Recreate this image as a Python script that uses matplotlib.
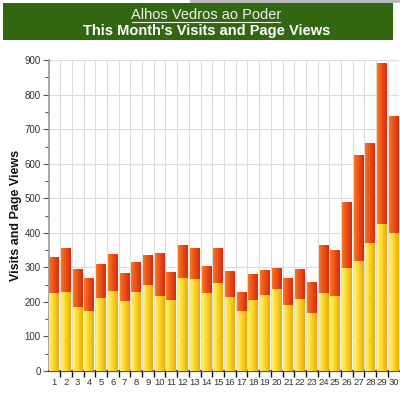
import numpy as np
import matplotlib
matplotlib.use("Agg")
import matplotlib.pyplot as plt
from matplotlib.patches import Rectangle
from matplotlib.colors import LinearSegmentedColormap

days = list(range(1, 31))
visits = [226, 229, 186, 175, 211, 231, 202, 229, 249, 216, 205, 269, 266, 227, 256,
          213, 175, 205, 221, 237, 192, 208, 168, 226, 216, 297, 319, 372, 425, 401]
totals = [331, 355, 294, 270, 310, 339, 285, 315, 337, 342, 288, 365, 356, 305, 355,
          289, 229, 282, 291, 297, 270, 294, 257, 366, 350, 490, 625, 659, 893, 737]
pageviews = [t - v for t, v in zip(totals, visits)]
yticks = list(range(0, 901, 100))

plt.rcParams['font.family'] = ['Liberation Sans', 'DejaVu Sans']

fig = plt.figure(figsize=(4.0, 3.99), dpi=100)
fig.patch.set_facecolor('white')
ax = fig.add_axes([0.1225, 0.0702, 0.875, 0.779])

width = 0.84
yel_cmap = LinearSegmentedColormap.from_list('y', ['#fff275', '#f9d52a', '#eeaa00'])
red_cmap = LinearSegmentedColormap.from_list('r', ['#f47a22', '#ea4e18', '#d92a0c'])
grad = np.linspace(0, 1, 32).reshape(1, -1)

b1 = ax.bar(days, visits, width=width, color='#f5c518', zorder=3, linewidth=0)
b2 = ax.bar(days, pageviews, bottom=visits, width=width, color='#e84a1b', zorder=3, linewidth=0)
for bars, cmap in ((b1, yel_cmap), (b2, red_cmap)):
    for r in bars:
        x0, y0 = r.get_x(), r.get_y()
        w, h = r.get_width(), r.get_height()
        im = ax.imshow(grad, cmap=cmap, extent=[x0, x0 + w, y0, y0 + h],
                       aspect='auto', zorder=4, interpolation='bicubic')
        im.set_clip_path(r)

ax.set_xlim(1 - width / 2 - 0.03, 30 + width / 2 + 0.03)
ax.set_ylim(0, 900)
ax.set_yticks(yticks)
ax.set_yticks(range(50, 900, 100), minor=True)
ax.set_xticks(days)
ax.set_xticklabels([str(d) for d in days])
ax.set_xticks([d + 0.5 for d in days[:-1]], minor=True)

ax.tick_params(axis='y', which='major', labelsize=7, labelcolor='#333333',
               length=4, width=0.8, color='#555555', pad=2)
ax.tick_params(axis='y', which='minor', length=3, width=0.8, color='#555555')
ax.tick_params(axis='x', which='major', labelsize=6.8, labelcolor='#333333',
               length=0, pad=5)
ax.tick_params(axis='x', which='minor', length=4, width=1, color='#111111', direction='out')

ax.grid(axis='y', which='major', color='#dcdcdc', linewidth=0.8, zorder=0)
ax.grid(axis='x', which='minor', color='#dcdcdc', linewidth=0.8, zorder=0)
ax.grid(axis='x', which='major', visible=False)

for s in ('top', 'right'):
    ax.spines[s].set_visible(False)
ax.spines['left'].set_color('#999999')
ax.spines['left'].set_linewidth(1.2)
ax.spines['bottom'].set_color('#555555')
ax.spines['bottom'].set_linewidth(1.6)
ax.set_axisbelow(True)

ax.set_ylabel('Visits and Page Views', fontsize=9, fontweight='bold', color='#111111', labelpad=2)

# header band
fig.patches.append(Rectangle((0.0075, 0.8997), 0.975, 0.0927, transform=fig.transFigure,
                             facecolor='#336611', edgecolor='none', zorder=0))
fig.patches.append(Rectangle((0.475, 0.992), 0.525, 0.008, transform=fig.transFigure,
                             facecolor='#bbbbbb', edgecolor='none', zorder=0))
fig.text(0.515, 0.963, 'Alhos Vedros ao Poder', ha='center', va='center', fontsize=10.5,
         color='#f0f0f0')
fig.add_artist(plt.Line2D([0.33, 0.70], [0.944, 0.944], transform=fig.transFigure,
                          color='#f0f0f0', linewidth=0.8))
fig.text(0.516, 0.923, "This Month's Visits and Page Views", ha='center', va='center',
         fontsize=10.5, fontweight='bold', color='white')

fig.savefig('out.png', dpi=100, facecolor='white')
